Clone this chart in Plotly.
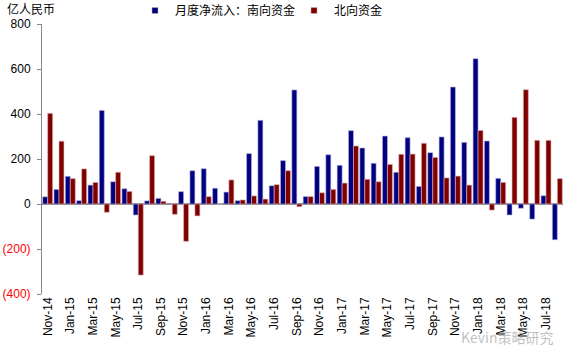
import plotly.graph_objects as go

months = ["Nov-14","Dec-14","Jan-15","Feb-15","Mar-15","Apr-15","May-15","Jun-15","Jul-15","Aug-15",
          "Sep-15","Oct-15","Nov-15","Dec-15","Jan-16","Feb-16","Mar-16","Apr-16","May-16","Jun-16",
          "Jul-16","Aug-16","Sep-16","Oct-16","Nov-16","Dec-16","Jan-17","Feb-17","Mar-17","Apr-17",
          "May-17","Jun-17","Jul-17","Aug-17","Sep-17","Oct-17","Nov-17","Dec-17","Jan-18","Feb-18",
          "Mar-18","Apr-18","May-18","Jun-18","Jul-18","Aug-18"]

south = [32, 65, 123, 15, 84, 416, 99, 68, -49, 14,
         25, -3, 55, 148, 157, 70, 53, 15, 224, 372,
         81, 193, 507, 33, 167, 219, 172, 326, 249, 181,
         302, 141, 295, 78, 228, 298, 520, 274, 646, 280,
         114, -49, -19, -67, 37, -159]

north = [403, 279, 113, 156, 96, -37, 141, 56, -316, 215,
         12, -46, -166, -53, 33, 0, 107, 18, 36, 22,
         86, 148, -12, 33, 50, 65, 93, 258, 110, 99,
         176, 221, 222, 270, 207, 116, 124, 84, 327, -27,
         96, 385, 508, 283, 283, 113]

series_names = ["月度净流入：南向资金", "北向资金"]
series_colors = ["#000080", "#800000"]
edge_colors = ["#B8B8E0", "#E0B8B8"]

tick_months = months[::2]
y_ticks = [800, 600, 400, 200, 0, -200, -400]
y_labels = ["800", "600", "400", "200", "0",
            "<span style='color:#FF0000'>(200)</span>",
            "<span style='color:#FF0000'>(400)</span>"]

fig = go.Figure()
for vals, name, col, edge in zip([south, north], series_names, series_colors, edge_colors):
    fig.add_trace(go.Bar(x=months, y=vals, name=name, showlegend=False, legendgroup=name,
                         marker=dict(color=col, line=dict(color=edge, width=0.6))))
# small square legend markers (like the reference)
for name, col in zip(series_names, series_colors):
    fig.add_trace(go.Scatter(x=[None], y=[None], mode="markers", name=name, legendgroup=name,
                             marker=dict(symbol="square", size=6, color=col,
                                         line=dict(color="#BBBBBB", width=0.5))))

fig.update_layout(
    width=570, height=350,
    margin=dict(l=42, r=7, t=24, b=56, autoexpand=False),
    paper_bgcolor="white", plot_bgcolor="white",
    barmode="group", bargap=0.12, bargroupgap=0,
    font=dict(family="Liberation Sans, Arial", size=12, color="black"),
    showlegend=True,
    legend=dict(orientation="h", x=0.1785, y=0.97, xanchor="left", yanchor="middle",
                yref="container", font=dict(family="Noto Sans CJK SC", size=12),
                itemwidth=30, entrywidth=114, bgcolor="rgba(0,0,0,0)",
                tracegroupgap=0),
    xaxis=dict(type="category", tickvals=tick_months, ticktext=tick_months,
               tickangle=-90, showline=False, showgrid=False, ticks="",
               tickfont=dict(size=12), range=[-0.5, len(months) - 0.5]),
    yaxis=dict(range=[-400, 800], tickvals=y_ticks, ticktext=y_labels,
               showgrid=False, showline=True, linecolor="#888888", linewidth=1,
               ticks="outside", ticklen=4, tickcolor="#888888", ticklabelstandoff=4,
               zeroline=True, zerolinecolor="#888888", zerolinewidth=1.5,
               tickfont=dict(size=12)),
    annotations=[
        dict(text="亿人民币", xref="paper", yref="paper", x=0, y=1.0,
             xanchor="left", yanchor="bottom", xshift=-37, yshift=5, showarrow=False,
             font=dict(family="Noto Sans CJK SC", size=12)),
        dict(text="Kevin策略研究", xref="paper", yref="paper", x=0.985, y=-0.16,
             xanchor="right", yanchor="middle", showarrow=False,
             font=dict(family="Noto Sans CJK SC", size=14, color="rgba(150,150,150,0.6)")),
    ],
)

fig.write_html("out.html")
